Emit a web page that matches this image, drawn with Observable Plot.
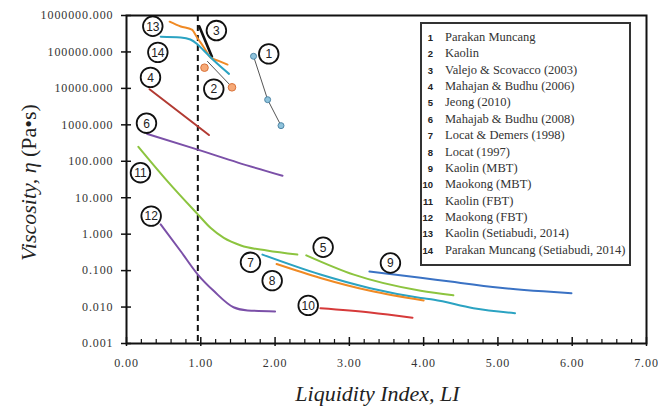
<!DOCTYPE html>
<html><head><meta charset="utf-8">
<script src="https://cdn.jsdelivr.net/npm/d3@7"></script>
<script src="https://cdn.jsdelivr.net/npm/@observablehq/plot@0.6"></script>
<style>
body{margin:0;background:#fff;}
#wrap{position:relative;width:658px;height:419px;overflow:hidden;}
#wrap svg text.tk{letter-spacing:0.9px}
#legend{position:absolute;left:420px;top:22px;width:207px;height:236px;border:2px solid #333;background:#fff;padding-top:3.8px;box-sizing:content-box;}
#legend .row{height:16.4px;line-height:16.4px;white-space:nowrap;}
#legend .num{display:inline-block;width:11px;text-align:right;font:bold 9.5px "Liberation Sans",Arial,sans-serif;color:#222;}
#legend .txt{display:inline-block;margin-left:12px;font:12.5px "Liberation Serif","Times New Roman",serif;color:#333;}
</style></head>
<body><div id="wrap"></div>
<script>
// ---- data ----
const seriesNames = ["Parakan Muncang","Kaolin","Valejo & Scovacco (2003)","Mahajan & Budhu (2006)","Jeong (2010)","Mahajab & Budhu (2008)","Locat & Demers (1998)","Locat (1997)","Kaolin (MBT)","Maokong (MBT)","Kaolin (FBT)","Maokong (FBT)","Kaolin (Setiabudi, 2014)","Parakan Muncang (Setiabudi, 2014)"];

const s1LI = [1.71, 1.90, 2.08], s1Eta = [76000, 4900, 950];
const s2LI = [1.05, 1.42], s2Eta = [37000, 10700];
const s2FitLI = [1.09, 1.40], s2FitEta = [55000, 12000];
const s3LI = [0.98, 1.15], s3Eta = [500000, 74000];
const s4LI = [0.31, 1.11], s4Eta = [9500, 525];
const s5LI = [2.42, 3.06, 3.96, 4.40], s5Eta = [0.263, 0.0775, 0.028, 0.021];
const s6LI = [0.28, 0.97, 1.5, 2.1], s6Eta = [560, 205, 92, 40];
const s7LI = [1.83, 2.61, 3.28, 3.96, 4.14, 4.67, 5.23], s7Eta = [0.275, 0.078, 0.033, 0.0178, 0.0158, 0.0093, 0.0068];
const s8LI = [2.02, 2.61, 3.28, 4.00], s8Eta = [0.152, 0.063, 0.028, 0.0152];
const s9LI = [3.27, 3.96, 4.36, 5.03, 5.61, 5.99], s9Eta = [0.095, 0.064, 0.050, 0.034, 0.027, 0.024];
const s10LI = [2.61, 3.28, 3.85], s10Eta = [0.0093, 0.0071, 0.0051];
const s11LI = [0.16, 0.55, 0.96, 1.13, 1.31, 1.54, 1.89, 2.30], s11Eta = [250, 28.7, 3.5, 1.49, 0.79, 0.49, 0.355, 0.275];
const s12LI = [0.46, 0.73, 0.96, 1.18, 1.44, 1.63, 2.0], s12Eta = [1.85, 0.34, 0.078, 0.027, 0.0099, 0.0081, 0.0076];
const s13LI = [0.58, 0.73, 0.88, 0.95, 1.04, 1.13, 1.24, 1.36], s13Eta = [676000, 500000, 410000, 250000, 135000, 71000, 57000, 45000];
const s14LI = [0.46, 0.73, 0.86, 0.95, 1.04, 1.18, 1.38], s14Eta = [263000, 251000, 219000, 166000, 110000, 57000, 25000];

const labelNums = [1,2,3,4,5,6,7,8,9,10,11,12,13,14];
const labelLI = [1.915, 1.175, 1.21, 0.323, 2.647, 0.269, 1.669, 1.961, 3.553, 2.446, 0.188, 0.332, 0.354, 0.422];
const labelEta = [88300, 9550, 386000, 20000, 0.438, 1110, 0.169, 0.053, 0.162, 0.0111, 48.6, 3.13, 507000, 97500];

const dashedLI = [0.96];
const xTicks = [0,1,2,3,4,5,6,7];
const xMinorTicks = d3.range(0, 35).map(i => i / 5).filter(v => Math.abs(v - Math.round(v)) > 1e-9);
const yTicks = [0.001, 0.01, 0.1, 1, 10, 100, 1000, 10000, 100000, 1000000];
const xTitle = "Liquidity Index, LI";
const yTitle = "Viscosity, η (Pa•s)";

// ---- build ----
const zip = (a, b) => a.map((v, i) => ({x: v, y: b[i]}));
const curves = [
  {d: zip(s3LI, s3Eta), c: "#111", w: 2.6},
  {d: zip(s4LI, s4Eta), c: "#b23a32", w: 2},
  {d: zip(s5LI, s5Eta), c: "#8cc43f", w: 2},
  {d: zip(s6LI, s6Eta), c: "#7b50a8", w: 2},
  {d: zip(s7LI, s7Eta), c: "#2ba3c2", w: 2},
  {d: zip(s8LI, s8Eta), c: "#f08a24", w: 2},
  {d: zip(s9LI, s9Eta), c: "#3a72c4", w: 2},
  {d: zip(s10LI, s10Eta), c: "#d63a3a", w: 2},
  {d: zip(s11LI, s11Eta), c: "#8cc43f", w: 2},
  {d: zip(s12LI, s12Eta), c: "#7b50a8", w: 2},
  {d: zip(s13LI, s13Eta), c: "#f08a24", w: 2},
  {d: zip(s14LI, s14Eta), c: "#2ba3c2", w: 2}
];
const labels = labelNums.map((n, i) => ({n, x: labelLI[i], y: labelEta[i]}));

const tickFont = {fontFamily: "Liberation Serif", fontSize: 12, fill: "#333"};

const plot = Plot.plot({
  width: 658, height: 419,
  marginLeft: 126, marginRight: 12, marginTop: 15, marginBottom: 76,
  style: {fontFamily: "Liberation Serif", fontSize: "12px", background: "#fff"},
  x: {domain: [0, 7], axis: null},
  y: {type: "log", domain: [0.001, 1000000], axis: null},
  marks: [
    Plot.ruleX(dashedLI, {stroke: "#111", strokeWidth: 2, strokeDasharray: "6,4"}),
    ...curves.map(s => Plot.line(s.d, {x: "x", y: "y", stroke: s.c, strokeWidth: s.w, curve: "monotone-x"})),
    Plot.line(zip(s1LI, s1Eta), {x: "x", y: "y", stroke: "#555", strokeWidth: 1}),
    Plot.dot(zip(s1LI, s1Eta), {x: "x", y: "y", r: 3, fill: "#8ec3dc", stroke: "#4f86a6", strokeWidth: 1}),
    Plot.line(zip(s2FitLI, s2FitEta), {x: "x", y: "y", stroke: "#555", strokeWidth: 1}),
    Plot.dot(zip(s2LI, s2Eta), {x: "x", y: "y", r: 3.8, fill: "#f6a977", stroke: "#d9733a", strokeWidth: 1}),
    Plot.dot(labels, {x: "x", y: "y", r: 9.8, fill: "#fff", stroke: "#111", strokeWidth: 1.8}),
    Plot.text(labels, {x: "x", y: "y", text: d => String(d.n), fontFamily: "Liberation Sans", fontSize: 12, fill: "#222", dy: 0.5}),
    Plot.frame({stroke: "#111", strokeWidth: 2}),
    // y axis
    Plot.axisY({ticks: yTicks, tickSize: 5, tickPadding: 8, tickFormat: d => d.toFixed(3), label: null, stroke: "#111", strokeWidth: 1.5, ...tickFont}),
    Plot.axisY({ticks: yTicks, tickSize: -5, tickFormat: () => "", label: null, stroke: "#111", strokeWidth: 1.5}),
    // x axis
    Plot.axisX({ticks: xMinorTicks, tickSize: -4, tickFormat: () => "", label: null, stroke: "#111", strokeWidth: 1.2}),
    Plot.axisX({ticks: xTicks, tickSize: -6, tickFormat: () => "", label: null, stroke: "#111", strokeWidth: 1.5}),
    Plot.axisX({ticks: xTicks, tickSize: 3, tickPadding: 12, tickFormat: d => d.toFixed(2), label: null, stroke: "#111", strokeWidth: 1.5, ...tickFont}),
    Plot.text([xTitle], {frameAnchor: "bottom", textAnchor: "middle", dx: -9, dy: 57, fontFamily: "Liberation Serif", fontStyle: "italic", fontSize: 22, fill: "#222"}),
    Plot.text([yTitle], {frameAnchor: "left", textAnchor: "middle", lineAnchor: "middle", dx: -98, dy: 3, rotate: -90, fontFamily: "Liberation Serif", fontStyle: "italic", fontSize: 22, fill: "#222", className: "ytitle"})
  ]
});

const wrap = document.getElementById("wrap");
wrap.appendChild(plot);

// letter spacing for tick labels
d3.select(plot).selectAll("[aria-label='y-axis tick label'] text, [aria-label='x-axis tick label'] text").classed("tk", true);

// make "(Pa•s)" upright in y title
d3.select(plot).selectAll("text").each(function() {
  const t = d3.select(this);
  if (t.text() !== yTitle) return;
  t.text(null);
  t.append("tspan").attr("font-style", "italic").text("Viscosity, η ");
  t.append("tspan").attr("font-style", "normal").text("(Pa•s)");
});

// legend
const legend = document.createElement("div");
legend.id = "legend";
seriesNames.forEach((name, i) => {
  const row = document.createElement("div");
  row.className = "row";
  const n = document.createElement("span"); n.className = "num"; n.textContent = String(i + 1);
  const t = document.createElement("span"); t.className = "txt"; t.textContent = name;
  row.appendChild(n); row.appendChild(t);
  legend.appendChild(row);
});
wrap.appendChild(legend);
</script>
</body></html>
